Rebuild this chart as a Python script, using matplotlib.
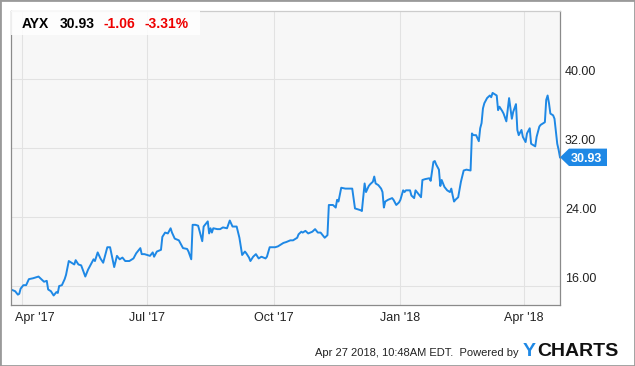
# AYX price chart, YCharts style

import pandas as pd
import matplotlib.pyplot as plt
from matplotlib.patches import Polygon, Rectangle
from matplotlib.transforms import ScaledTranslation, blended_transform_factory

plt.rcParams['font.family'] = ['Liberation Sans', 'DejaVu Sans']

# ---------------------------------------------------------

ticker = "AYX"
last_price = 30.93
change = "-1.06"
change_pct = "-3.31%"
stamp = "Apr 27 2018, 10:48AM EDT.  Powered by"

dates = [
  "2017-03-24", "2017-03-27", "2017-03-29", "2017-03-30", "2017-03-31", "2017-04-02", "2017-04-04", "2017-04-06",
  "2017-04-09", "2017-04-13", "2017-04-15", "2017-04-17", "2017-04-19", "2017-04-20", "2017-04-22", "2017-04-24",
  "2017-04-26", "2017-04-27", "2017-04-28", "2017-04-30", "2017-05-02", "2017-05-03", "2017-05-05", "2017-05-08",
  "2017-05-09", "2017-05-10", "2017-05-12", "2017-05-14", "2017-05-17", "2017-05-19", "2017-05-23", "2017-05-24",
  "2017-05-26", "2017-05-28", "2017-05-30", "2017-06-02", "2017-06-04", "2017-06-07", "2017-06-09", "2017-06-11",
  "2017-06-13", "2017-06-15", "2017-06-18", "2017-06-21", "2017-06-23", "2017-06-26", "2017-06-27", "2017-06-29",
  "2017-07-03", "2017-07-05", "2017-07-06", "2017-07-08", "2017-07-11", "2017-07-12", "2017-07-14", "2017-07-16",
  "2017-07-18", "2017-07-19", "2017-07-21", "2017-07-24", "2017-07-27", "2017-07-30", "2017-07-31", "2017-08-02",
  "2017-08-03", "2017-08-05", "2017-08-07", "2017-08-10", "2017-08-11", "2017-08-13", "2017-08-14", "2017-08-15",
  "2017-08-16", "2017-08-17", "2017-08-18", "2017-08-21", "2017-08-23", "2017-08-25", "2017-08-28", "2017-08-30",
  "2017-09-01", "2017-09-04", "2017-09-06", "2017-09-08", "2017-09-10", "2017-09-11", "2017-09-13", "2017-09-14",
  "2017-09-16", "2017-09-18", "2017-09-20", "2017-09-22", "2017-09-25", "2017-09-26", "2017-09-28", "2017-10-02",
  "2017-10-04", "2017-10-08", "2017-10-10", "2017-10-13", "2017-10-15", "2017-10-18", "2017-10-19", "2017-10-21",
  "2017-10-22", "2017-10-24", "2017-10-26", "2017-10-29", "2017-10-31", "2017-11-02", "2017-11-04", "2017-11-06",
  "2017-11-07", "2017-11-09", "2017-11-10", "2017-11-13", "2017-11-15", "2017-11-16", "2017-11-17", "2017-11-19",
  "2017-11-22", "2017-11-25", "2017-11-27", "2017-11-29", "2017-12-01", "2017-12-03", "2017-12-04", "2017-12-06",
  "2017-12-07", "2017-12-09", "2017-12-10", "2017-12-12", "2017-12-13", "2017-12-14", "2017-12-16", "2017-12-18",
  "2017-12-19", "2017-12-20", "2017-12-21", "2017-12-23", "2017-12-26", "2017-12-27", "2017-12-29", "2017-12-31",
  "2018-01-01", "2018-01-03", "2018-01-04", "2018-01-05", "2018-01-08", "2018-01-09", "2018-01-11", "2018-01-12",
  "2018-01-14", "2018-01-16", "2018-01-17", "2018-01-19", "2018-01-22", "2018-01-23", "2018-01-25", "2018-01-26",
  "2018-01-27", "2018-01-29", "2018-01-30", "2018-01-31", "2018-02-02", "2018-02-04", "2018-02-06", "2018-02-07",
  "2018-02-08", "2018-02-09", "2018-02-10", "2018-02-12", "2018-02-14", "2018-02-16", "2018-02-18", "2018-02-21",
  "2018-02-22", "2018-02-23", "2018-02-25", "2018-02-27", "2018-02-28", "2018-03-01", "2018-03-02", "2018-03-03",
  "2018-03-05", "2018-03-07", "2018-03-08", "2018-03-09", "2018-03-11", "2018-03-12", "2018-03-13", "2018-03-14",
  "2018-03-16", "2018-03-17", "2018-03-19", "2018-03-21", "2018-03-23", "2018-03-24", "2018-03-26", "2018-03-27",
  "2018-03-28", "2018-03-30", "2018-03-31", "2018-04-02", "2018-04-03", "2018-04-05", "2018-04-06", "2018-04-08",
  "2018-04-09", "2018-04-10", "2018-04-12", "2018-04-13", "2018-04-15", "2018-04-16", "2018-04-17", "2018-04-18",
  "2018-04-19", "2018-04-20", "2018-04-22", "2018-04-23", "2018-04-25", "2018-04-26", "2018-04-27",
]

prices = [
  15.6, 15.4, 15.0, 15.1, 15.7, 16.1, 16.1, 16.8,
  16.9, 17.1, 16.8, 16.5, 16.6, 15.6, 15.4, 14.9,
  15.3, 15.2, 16.0, 16.1, 16.8, 17.3, 18.9, 18.6,
  18.5, 19.0, 18.5, 18.4, 17.1, 17.9, 19.1, 18.9,
  19.9, 19.2, 18.7, 20.5, 20.5, 18.2, 19.5, 19.1,
  19.3, 18.9, 18.9, 19.2, 19.8, 20.4, 19.7, 19.7,
  19.5, 19.9, 19.4, 20.0, 20.2, 21.7, 22.2, 22.1,
  22.7, 22.2, 21.5, 21.3, 20.4, 20.3, 20.0, 19.1,
  23.1, 23.1, 23.0, 21.2, 22.9, 23.3, 23.5, 22.1,
  22.7, 22.2, 22.7, 22.6, 22.6, 22.8, 22.7, 23.6,
  22.9, 22.9, 21.6, 19.6, 20.0, 19.8, 19.3, 18.9,
  19.4, 19.7, 19.2, 19.4, 19.2, 19.4, 20.5, 20.5,
  20.6, 21.0, 21.1, 21.3, 21.3, 21.6, 22.0, 22.3,
  22.2, 22.4, 22.1, 22.3, 22.6, 22.2, 22.2, 21.8,
  21.6, 21.9, 25.4, 25.4, 25.1, 26.0, 25.8, 27.4,
  27.3, 27.3, 27.3, 25.0, 24.9, 24.8, 24.7, 27.9,
  26.9, 27.6, 27.8, 28.1, 28.7, 27.9, 27.7, 27.3,
  26.9, 25.1, 25.8, 26.0, 26.2, 26.0, 25.4, 25.7,
  26.0, 27.1, 26.9, 27.1, 27.1, 26.5, 26.2, 27.1,
  26.7, 26.3, 28.3, 28.4, 28.5, 28.2, 30.4, 30.5,
  30.1, 29.5, 27.6, 28.3, 27.5, 27.1, 26.9, 27.3,
  26.5, 25.8, 26.0, 26.3, 28.1, 29.4, 29.5, 29.4,
  33.7, 33.5, 33.5, 32.8, 34.3, 34.9, 36.6, 37.2,
  37.8, 38.1, 37.9, 38.4, 38.2, 38.1, 36.4, 36.8,
  36.3, 36.0, 35.1, 37.8, 35.4, 36.2, 37.1, 34.1,
  33.5, 34.1, 33.3, 32.7, 33.7, 34.3, 32.5, 32.3,
  32.2, 33.3, 34.5, 34.7, 34.9, 35.0, 37.6, 38.1,
  37.2, 36.0, 35.8, 35.4, 32.5, 31.8, 30.93,
]

x_ticks = ["2017-04-01", "2017-07-01", "2017-10-01", "2018-01-01", "2018-04-01"]
x_labels = ["Apr '17", "Jul '17", "Oct '17", "Jan '18", "Apr '18"]
y_ticks = [16, 24, 32, 40]

BLUE = "#1e88e5"
W, H = 635, 366

# ---------------------------------------------------------

def px(x, y):
  """ pixel position (from top left) -> figure fraction """
  return x / W, 1 - y / H

fig = plt.figure(figsize=(W / 100, H / 100), dpi=100)
ax = fig.add_axes([11 / W, 61 / H, 549 / W, 294 / H])
ax.set_facecolor("#f7f7f7")

ax.plot(pd.to_datetime(dates), prices, color=BLUE, lw=1.4, solid_joinstyle='round')

ax.set_xlim(pd.Timestamp("2017-03-24"), pd.Timestamp("2018-04-27"))
ax.set_ylim(13.8, 47.9)
ax.set_xticks(pd.to_datetime(x_ticks))
ax.set_xticklabels(x_labels)
ax.set_yticks(y_ticks)
ax.set_yticklabels([f"{v:.2f}" for v in y_ticks])
ax.yaxis.tick_right()
ax.tick_params(length=0, labelsize=9, labelcolor="#222222")
ax.tick_params(axis='y', pad=3.6)
ax.tick_params(axis='x', pad=5)
ax.grid(color="#e2e2e2", lw=0.75)
ax.set_axisbelow(True)
for s in ax.spines.values():
  s.set_color("#8a8a8a")
  s.set_linewidth(0.9)
ax.spines['top'].set_color("#cccccc")

# y labels sit a little above their gridlines
up = ScaledTranslation(0, 9 / 100, fig.dpi_scale_trans)
for lab in ax.get_yticklabels():
  lab.set_transform(lab.get_transform() + up)

# first x label is pushed inside the plot
first = ax.get_xticklabels()[0]
first.set_horizontalalignment('left')
first.set_transform(first.get_transform() + ScaledTranslation(-7 / 100, 0, fig.dpi_scale_trans))

# header box
fig.add_artist(Rectangle(px(11, 35), 189 / W, 24 / H, transform=fig.transFigure,
                         fc='white', ec='none', alpha=0.85, zorder=3))
hdr = dict(fontsize=10, weight='bold', va='baseline', zorder=4)
fig.text(*px(21.7, 28.5), ticker, color='black', **hdr)
fig.text(*px(59.3, 28.5), f"{last_price:.2f}", color='black', **hdr)
fig.text(*px(104, 28.5), change, color='#ee0000', **hdr)
fig.text(*px(144.3, 28.5), change_pct, color='#ee0000', **hdr)

# last price tag (drawn in inches from the point where the last price meets the right edge)
anchor = blended_transform_factory(ax.transAxes, ax.transData)
tag_tr = fig.dpi_scale_trans + ScaledTranslation(1.0, last_price, anchor)
fig.add_artist(Polygon([(0, 0), (0.09, 0.087), (0.47, 0.087), (0.47, -0.087), (0.09, -0.087)],
                       closed=True, transform=tag_tr, fc=BLUE, ec='none', zorder=5))
fig.text(0.26, 0, f"{last_price:.2f}", transform=tag_tr, ha='center', va='center_baseline',
         color='white', weight='bold', fontsize=9, zorder=6)

# footer
fig.text(*px(519, 356.5), stamp, ha='right', va='baseline', fontsize=8, color='#222222')
fig.text(*px(523, 356.5), "Y", va='baseline', fontsize=14, weight='bold', color=BLUE)
fig.text(*px(537, 356.5), "CHARTS", va='baseline', fontsize=14, weight='bold', color='#111111')

# outer frame
fig.add_artist(Rectangle((0, 0), 1, 1, transform=fig.transFigure, fill=False,
                         ec='#9a9a9a', lw=2))

fig.savefig("out.png", dpi=100)
